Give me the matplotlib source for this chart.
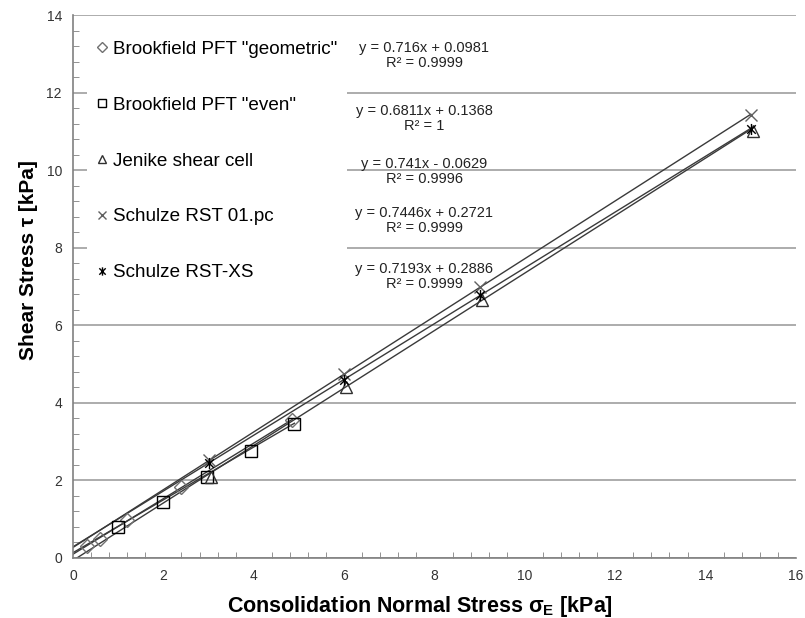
import numpy as np
import matplotlib
matplotlib.use('Agg')
import matplotlib.pyplot as plt
from matplotlib.ticker import MultipleLocator
from matplotlib.path import Path

# data
geo_x = [0.3, 0.6, 1.2, 2.4, 4.85]
geo_y = [0.3, 0.5, 0.97, 1.83, 3.57]
even_x = [1.0, 2.0, 2.97, 3.93, 4.9]
even_y = [0.8, 1.44, 2.1, 2.76, 3.46]
jen_x = [3.05, 6.05, 9.05, 15.05]
jen_y = [2.08, 4.4, 6.66, 11.0]
rst_x = [3.0, 6.0, 9.0, 15.0]
rst_y = [2.52, 4.74, 6.98, 11.43]
xs_x = [3.0, 6.0, 9.0, 15.0]
xs_y = [2.45, 4.6, 6.77, 11.07]

names = ['Brookfield PFT "geometric"', 'Brookfield PFT "even"', 'Jenike shear cell',
         'Schulze RST 01.pc', 'Schulze RST-XS']
slopes = [0.716, 0.6811, 0.741, 0.7446, 0.7193]
intercepts = [0.0981, 0.1368, -0.0629, 0.2721, 0.2886]
r2 = ['0.9999', '1', '0.9996', '0.9999', '0.9999']

# excel style star: x with a vertical bar
star = Path([(-1, -1), (1, 1), (-1, 1), (1, -1), (0, -1.3), (0, 1.3)],
            [Path.MOVETO, Path.LINETO, Path.MOVETO, Path.LINETO, Path.MOVETO, Path.LINETO])

xs_all = [geo_x, even_x, jen_x, rst_x, xs_x]
ys_all = [geo_y, even_y, jen_y, rst_y, xs_y]
markers = ['D', 's', '^', 'x', star]
msizes = [7, 8, 8, 8, 8]
mcolors = ['#707070', '#000000', '#303030', '#606060', '#000000']
# equation label positions (axes fraction)
eq_pos = [(0.486, 0.925), (0.486, 0.809), (0.486, 0.712), (0.486, 0.622), (0.486, 0.518)]

plt.rcParams['font.family'] = ['Liberation Sans', 'DejaVu Sans']

fig = plt.figure(figsize=(8.05, 6.18), dpi=100)
ax = fig.add_axes([0.0907, 0.0971, 0.8981, 0.8786])

handles = []
for i in range(5):
    x = np.array(xs_all[i])
    xl = np.array([0.0, x.max()])
    ax.plot(xl, slopes[i] * xl + intercepts[i], color='#3a3a3a', lw=1.0, zorder=2)
    h, = ax.plot(x, ys_all[i], linestyle='none', marker=markers[i], ms=msizes[i],
                 mfc='none', mec=mcolors[i], mew=1.0, zorder=3)
    handles.append(h)
    b = intercepts[i]
    sign = '+' if b >= 0 else '-'
    eq = 'y = %sx %s %s\nR² = %s' % (slopes[i], sign, abs(b), r2[i])
    ax.text(eq_pos[i][0], eq_pos[i][1], eq, transform=ax.transAxes, ha='center',
            va='center', fontsize=10.5, color='#222222', linespacing=1.1, zorder=4)

leg = ax.legend(handles, names, loc='upper left', bbox_to_anchor=(0.006, 0.988),
                fontsize=13.6, labelspacing=2.05, handlelength=0.6, handletextpad=0.3,
                borderpad=0.5, frameon=True, facecolor='white', edgecolor='none',
                framealpha=1.0, markerscale=0.75)
leg.set_zorder(5)

ax.set_xlim(0, 16)
ax.set_ylim(0, 14)
ax.xaxis.set_major_locator(MultipleLocator(2))
ax.yaxis.set_major_locator(MultipleLocator(2))
ax.xaxis.set_minor_locator(MultipleLocator(0.4))
ax.yaxis.set_minor_locator(MultipleLocator(0.4))
ax.tick_params(which='both', direction='in', color='#808080', labelsize=10,
               labelcolor='#333333')
ax.tick_params(which='major', length=0, pad=8)
ax.tick_params(which='minor', length=4)
ax.grid(axis='y', which='major', color='#a6a6a6', lw=1.3)
ax.set_axisbelow(True)
for s in ['top', 'right']:
    ax.spines[s].set_visible(False)
for s in ['left', 'bottom']:
    ax.spines[s].set_color('#808080')
    ax.spines[s].set_linewidth(1.2)

ax.set_xlabel('Consolidation Normal Stress σ$_\\mathregular{E}$ [kPa]', fontsize=15.5,
              fontweight='bold')
ax.set_ylabel('Shear Stress τ [kPa]', fontsize=15, fontweight='bold')
ax.xaxis.set_label_coords(0.48, -0.066)
ax.yaxis.set_label_coords(-0.048, 0.549)

fig.savefig('out.png', dpi=100)
